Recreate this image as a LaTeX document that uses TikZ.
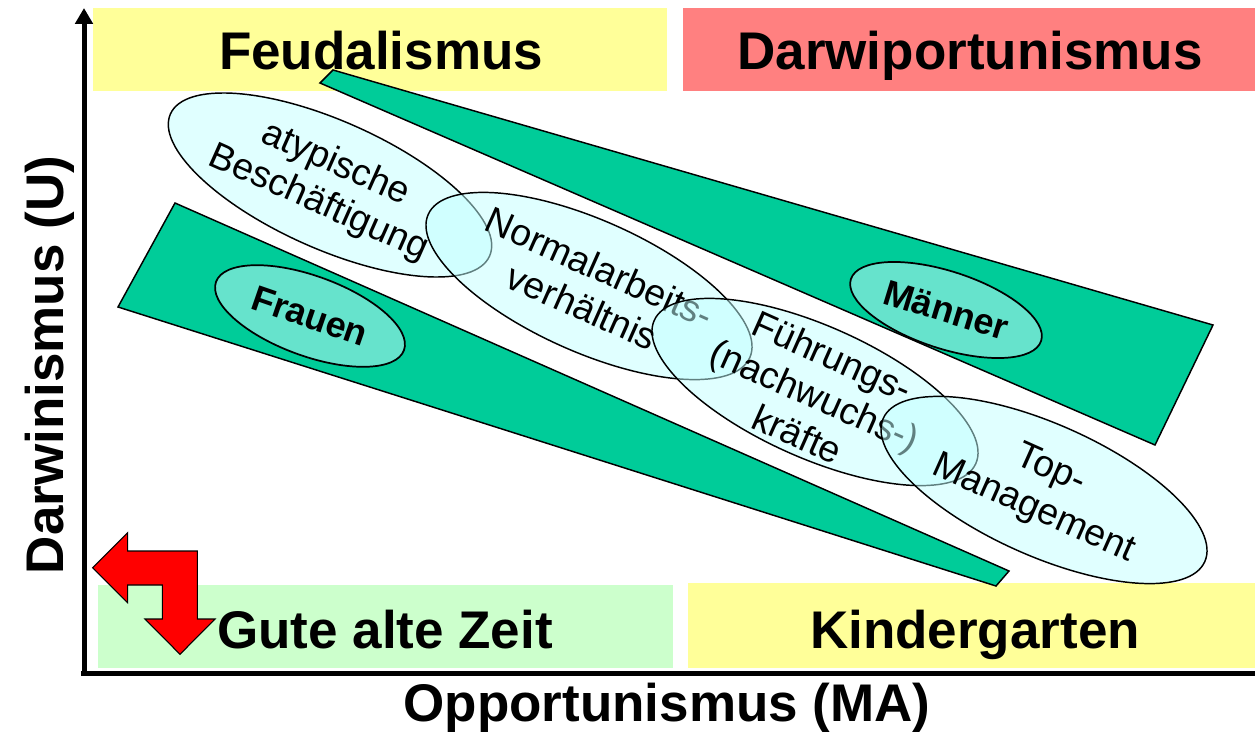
\documentclass[tikz,border=0pt]{standalone}
\usepackage{fontspec}
\setmainfont{Liberation Sans}
\usetikzlibrary{shapes.geometric,arrows.meta}
\definecolor{yel}{HTML}{FFFF99}
\definecolor{sal}{HTML}{FF8080}
\definecolor{lgreen}{HTML}{CCFFCC}
\definecolor{band}{HTML}{00CC99}
\definecolor{cyanfill}{HTML}{C1FFFF}
\definecolor{mint}{HTML}{66E3CC}
\begin{document}
\begin{tikzpicture}[x=0.75pt,y=-0.75pt,
  title/.style={font=\fontsize{39.75}{44}\selectfont\bfseries, anchor=base, inner sep=0},
  grouptext/.style={font=\fontsize{28}{32}\selectfont, align=center, inner sep=0, rotate=-24},
  groupell/.style={ellipse, draw=black, line width=1.1pt, fill=cyanfill, fill opacity=0.5,
    draw opacity=1, inner sep=0, minimum width=264pt, minimum height=99pt, rotate=-24},
  sexell/.style={ellipse, draw=black, line width=1.3pt, fill=mint, inner sep=0},
  sextext/.style={font=\fontsize{27}{31}\selectfont\bfseries, inner sep=0},
  bandstyle/.style={fill=band, draw=black, line width=1.1pt, line join=miter},
  axis/.style={line width=3.75pt, black}
]
\useasboundingbox (0,0) rectangle (1255,731);

% quadrant boxes
\fill[yel] (93,8) rectangle (667,91);
\fill[sal] (683,8) rectangle (1255,91);
\fill[lgreen] (98,585) rectangle (673,668);
\fill[yel] (688,583) rectangle (1255,668);

\node[title] (feud) at (381,70) {Feudalismus};
\node[title] (darwi) at (970,70) {Darwiportunismus};
\node[title] (gute) at (385,648) {Gute alte Zeit};
\node[title] (kinder) at (975,648) {Kindergarten};

% axes
\coordinate (origin) at (84,675.5);
\coordinate (ytip) at (84,8);
\coordinate (xstart) at (81,673);
\coordinate (xend) at (1255,673);
\draw[axis, -{Triangle[length=12pt,width=13pt]}] (origin) -- (ytip);
\draw[axis] (xstart) -- (xend);
\node[title] (xlabel) at (667,721) {Opportunismus (MA)};
\node[title, rotate=90] (ylabel) at (63,365) {Darwinismus (U)};

% green bands
\draw[bandstyle] (333,70) -- (1213,325) -- (1155,445) -- (320,83) -- cycle;
\draw[bandstyle] (175,203) -- (1009,571) -- (996,586) -- (118,307) -- cycle;

% Frauen / Maenner
\node[sexell, minimum width=150pt, minimum height=60pt, rotate=-20] (frauenell) at (310,316) {};
\node[sextext, rotate=-19] (frauen) at (310,316) {Frauen};
\node[sexell, minimum width=150pt, minimum height=58pt, rotate=-18] (maennerell) at (946,310) {};
\node[sextext, rotate=-17] (maenner) at (946,310) {Männer};

% group ellipses
\node[groupell, minimum width=262pt, minimum height=96pt] (atypell) at (330,185) {};
\node[grouptext] (atyp) at (327,184) {atypische\\Beschäftigung};
\node[groupell] (normell) at (589,286) {};
\node[grouptext] (norm) at (591,287) {Normalarbeits-\\verhältnis};
\node[groupell] (fuehrell) at (815,392) {};
\node[grouptext] (fuehr) at (815,395) {Führungs-\\(nachwuchs-)\\kräfte};
\node[groupell] (topell) at (1044,490) {};
\node[grouptext] (top) at (1042,490) {Top-\\Management};

% red bent arrow
\draw[fill=red, draw=black, line width=0.8pt, line join=miter]
  (92.7,567.7) -- (127.7,532.7) -- (127.7,551) -- (197.3,551) -- (197.3,619)
  -- (215,619) -- (180,654.3) -- (145,619) -- (162.3,619) -- (162.3,585)
  -- (127.7,585) -- (127.7,602.7) -- cycle;
\end{tikzpicture}
\end{document}
